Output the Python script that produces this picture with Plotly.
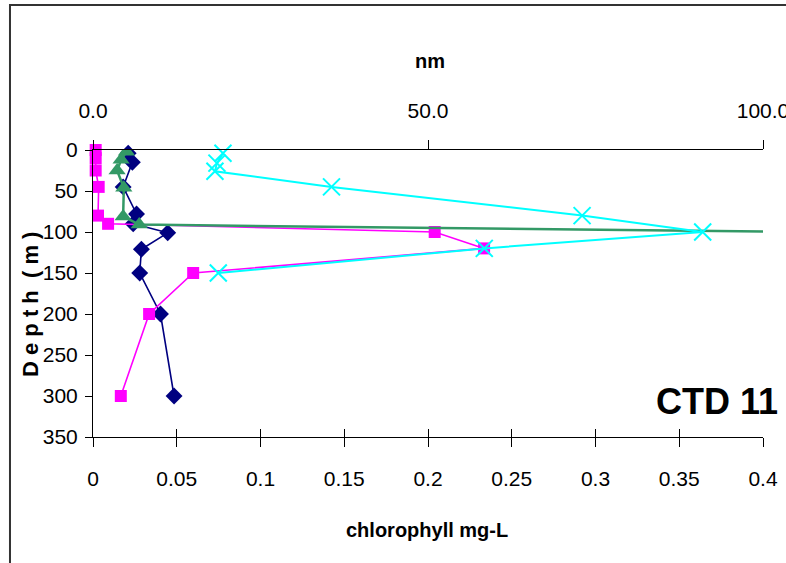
import plotly.graph_objects as go

# ---- data ----
navy_depth = [4, 15, 45, 78, 90, 101, 121, 150, 200, 300]
navy_chl = [0.021, 0.0235, 0.018, 0.026, 0.024, 0.0446, 0.0289, 0.0279, 0.0403, 0.0484]

mag_depth = [0, 10, 25, 45, 80, 90, 100, 120, 150, 200, 300]
mag_chl = [0.0016, 0.0016, 0.0016, 0.0034, 0.003, 0.009, 0.204, 0.2335, 0.0598, 0.0335, 0.0166]

grn_depth = [2, 12, 25, 46, 81, 91, 100]
grn_nm = [5.0, 4.2, 3.6, 4.6, 4.5, 6.9, 105]

cyn_depth = [4, 16, 26, 45, 80, 100, 120, 150]
cyn_nm = [19.4, 18.5, 18.2, 35.6, 73.0, 91.0, 58.4, 18.7]

chl_ticks = [0, 0.05, 0.1, 0.15, 0.2, 0.25, 0.3, 0.35, 0.4]
nm_ticks = [0, 50, 100]
depth_ticks = [0, 50, 100, 150, 200, 250, 300, 350]

FONT = "Liberation Sans, Arial, sans-serif"
tickfont = dict(family=FONT, size=21, color="black")

fig = go.Figure()
fig.add_trace(go.Scatter(x=navy_chl, y=navy_depth, mode="lines+markers", xaxis="x", yaxis="y",
                         line=dict(color="#000080", width=1.6),
                         marker=dict(symbol="diamond", size=13, color="#000080"),
                         cliponaxis=False, showlegend=False))
fig.add_trace(go.Scatter(x=mag_chl, y=mag_depth, mode="lines+markers", xaxis="x", yaxis="y",
                         line=dict(color="#FF00FF", width=1.6),
                         marker=dict(symbol="square", size=12, color="#FF00FF"),
                         cliponaxis=False, showlegend=False))
fig.add_trace(go.Scatter(x=grn_nm, y=grn_depth, mode="lines+markers", xaxis="x2", yaxis="y",
                         line=dict(color="#339966", width=2.5),
                         marker=dict(symbol="triangle-up", size=15, color="#339966"),
                         showlegend=False))
fig.add_trace(go.Scatter(x=cyn_nm, y=cyn_depth, mode="lines+markers", xaxis="x2", yaxis="y",
                         line=dict(color="#00FFFF", width=2),
                         marker=dict(symbol="x-thin-open", size=17, color="#00FFFF",
                                     line=dict(color="#00FFFF", width=2)),
                         cliponaxis=False, showlegend=False))
# dummy trace to activate the inner-tick overlay axis
fig.add_trace(go.Scatter(x=[None], y=[None], xaxis="x3", yaxis="y", showlegend=False, hoverinfo="skip"))

fig.update_layout(
    width=786, height=563,
    margin=dict(l=93, r=23, t=150, b=126, autoexpand=False),
    paper_bgcolor="white", plot_bgcolor="white",
    xaxis=dict(range=[0, 0.4], tickvals=chl_ticks, ticks="outside", ticklen=9, tickcolor="black",
               showline=True, linecolor="black", linewidth=1, showgrid=False, zeroline=False,
               tickfont=tickfont, ticklabelstandoff=14, automargin=False, ticklabeloverflow="allow"),
    xaxis3=dict(range=[0, 0.4], tickvals=chl_ticks, ticks="inside", ticklen=8, tickcolor="black",
                overlaying="x", anchor="y", side="bottom", showticklabels=False,
                showline=False, showgrid=False, zeroline=False, automargin=False),
    xaxis2=dict(range=[0, 100], tickvals=nm_ticks, tickformat=".1f", ticks="outside", ticklen=9,
                tickcolor="black", overlaying="x", anchor="y", side="top",
                showline=True, linecolor="black", linewidth=1, showgrid=False, zeroline=False,
                tickfont=tickfont, ticklabelstandoff=14, automargin=False, ticklabeloverflow="allow"),
    yaxis=dict(range=[350, 0], tickvals=depth_ticks, ticks="outside", ticklen=7, tickcolor="black",
               showline=True, linecolor="black", linewidth=1, showgrid=False, zeroline=False,
               tickfont=tickfont, ticklabelstandoff=3, automargin=False, ticklabeloverflow="allow"),
)

title_font = dict(family=FONT, size=20, color="black")
fig.add_annotation(text="<b>chlorophyll mg-L</b>", xref="paper", yref="paper", x=0.4985, y=-0.324,
                   showarrow=False, font=title_font, xanchor="center", yanchor="middle")
fig.add_annotation(text="<b>nm</b>", xref="paper", yref="paper", x=0.503, y=1.31,
                   showarrow=False, font=title_font, xanchor="center", yanchor="middle")
fig.add_annotation(text="<b>D e p t h &nbsp;( m )</b>", xref="paper", yref="paper", x=-0.0925, y=0.46,
                   showarrow=False, font=dict(family=FONT, size=22, color="black"),
                   textangle=-90, xanchor="center", yanchor="middle")
fig.add_annotation(text="<b>CTD 11</b>", xref="paper", yref="paper", x=0.932, y=0.125,
                   showarrow=False, font=dict(family=FONT, size=36, color="black"),
                   xanchor="center", yanchor="middle")

# chart-area frame (extends past the right and bottom edges of the view)
fig.add_shape(type="rect", xref="paper", yref="paper", x0=-0.1239, x1=1.1, y0=-0.7, y1=1.5052,
              line=dict(color="#333333", width=2), fillcolor="rgba(0,0,0,0)", layer="below")

fig.write_html("out.html")
